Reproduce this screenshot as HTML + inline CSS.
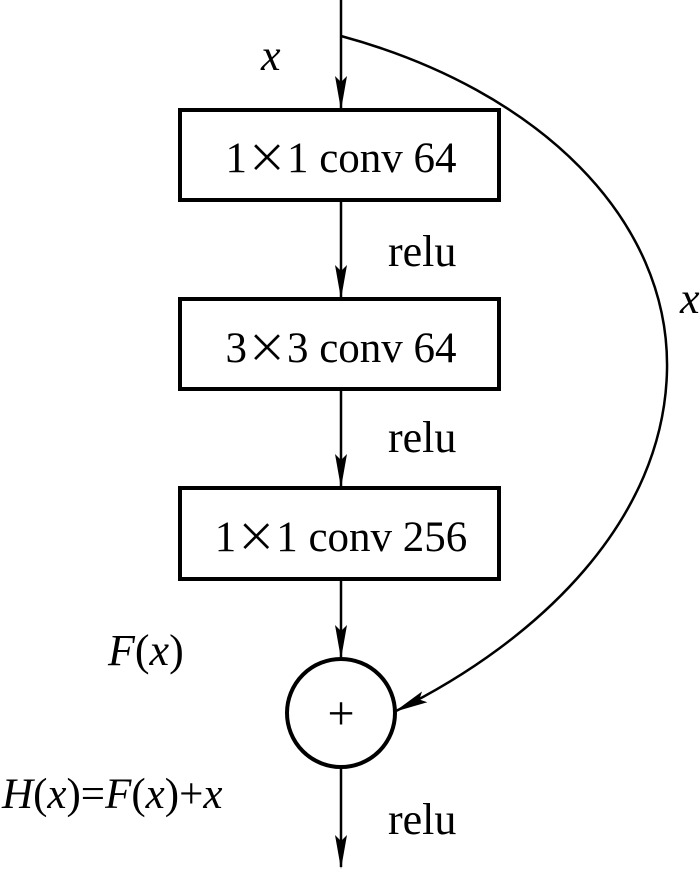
<!DOCTYPE html>
<html><head><meta charset="utf-8"><style>
html,body{margin:0;padding:0;background:#fff;}
svg{display:block}
text{font-family:"Liberation Serif",serif;fill:#000}
.m{font-family:"Noto Sans CJK SC","Liberation Serif",serif}
</style></head><body>
<svg width="700" height="869" viewBox="0 0 700 869" xmlns="http://www.w3.org/2000/svg">
<defs>
<marker id="b" markerWidth="34" markerHeight="12" refX="32" refY="6" orient="auto" markerUnits="userSpaceOnUse" viewBox="0 0 34 12">
<path d="M0,0 L6,6 L0,12 L34,6 Z" fill="#000"/>
</marker>
</defs>
<g stroke="#000" fill="none">
<line x1="341" y1="0" x2="341" y2="108" stroke-width="2.5" marker-end="url(#b)"/>
<rect x="180" y="110" width="319" height="90" stroke-width="4"/>
<line x1="341" y1="200" x2="341" y2="297" stroke-width="2.5" marker-end="url(#b)"/>
<rect x="180" y="299" width="319" height="90" stroke-width="4"/>
<line x1="341" y1="389" x2="341" y2="486" stroke-width="2.5" marker-end="url(#b)"/>
<rect x="180" y="488" width="319" height="91" stroke-width="4"/>
<line x1="341" y1="579" x2="341" y2="657" stroke-width="2.5" marker-end="url(#b)"/>
<circle cx="341" cy="713" r="54" stroke-width="4"/>
<line x1="341" y1="767" x2="341" y2="867" stroke-width="2.5" marker-end="url(#b)"/>
<path d="M341,36 C540,90 670,220 667,370 C664,520 540,640 396,711" stroke-width="2.5" marker-end="url(#b)"/>
</g>
<text x="341" y="172" font-size="43" text-anchor="middle">1<tspan class="m" font-size="40">×</tspan>1 conv 64</text>
<text x="341" y="362" font-size="43" text-anchor="middle">3<tspan class="m" font-size="40">×</tspan>3 conv 64</text>
<text x="341" y="551" font-size="43" text-anchor="middle">1<tspan class="m" font-size="40">×</tspan>1 conv 256</text>
<text x="388" y="266" font-size="44">relu</text>
<text x="388" y="452" font-size="44">relu</text>
<text x="388" y="834" font-size="44">relu</text>
<text x="341" y="729" font-size="48" text-anchor="middle">+</text>
<text x="261" y="70" font-size="44" font-style="italic">x</text>
<text x="680" y="313" font-size="44" font-style="italic">x</text>
<text x="108" y="665" font-size="44" font-style="italic">F<tspan font-style="normal">(</tspan>x<tspan font-style="normal">)</tspan></text>
<text x="2" y="808" font-size="43" font-style="italic">H<tspan font-style="normal">(</tspan>x<tspan font-style="normal">)=</tspan>F<tspan font-style="normal">(</tspan>x<tspan font-style="normal">)+</tspan>x</text>
</svg>
</body></html>
